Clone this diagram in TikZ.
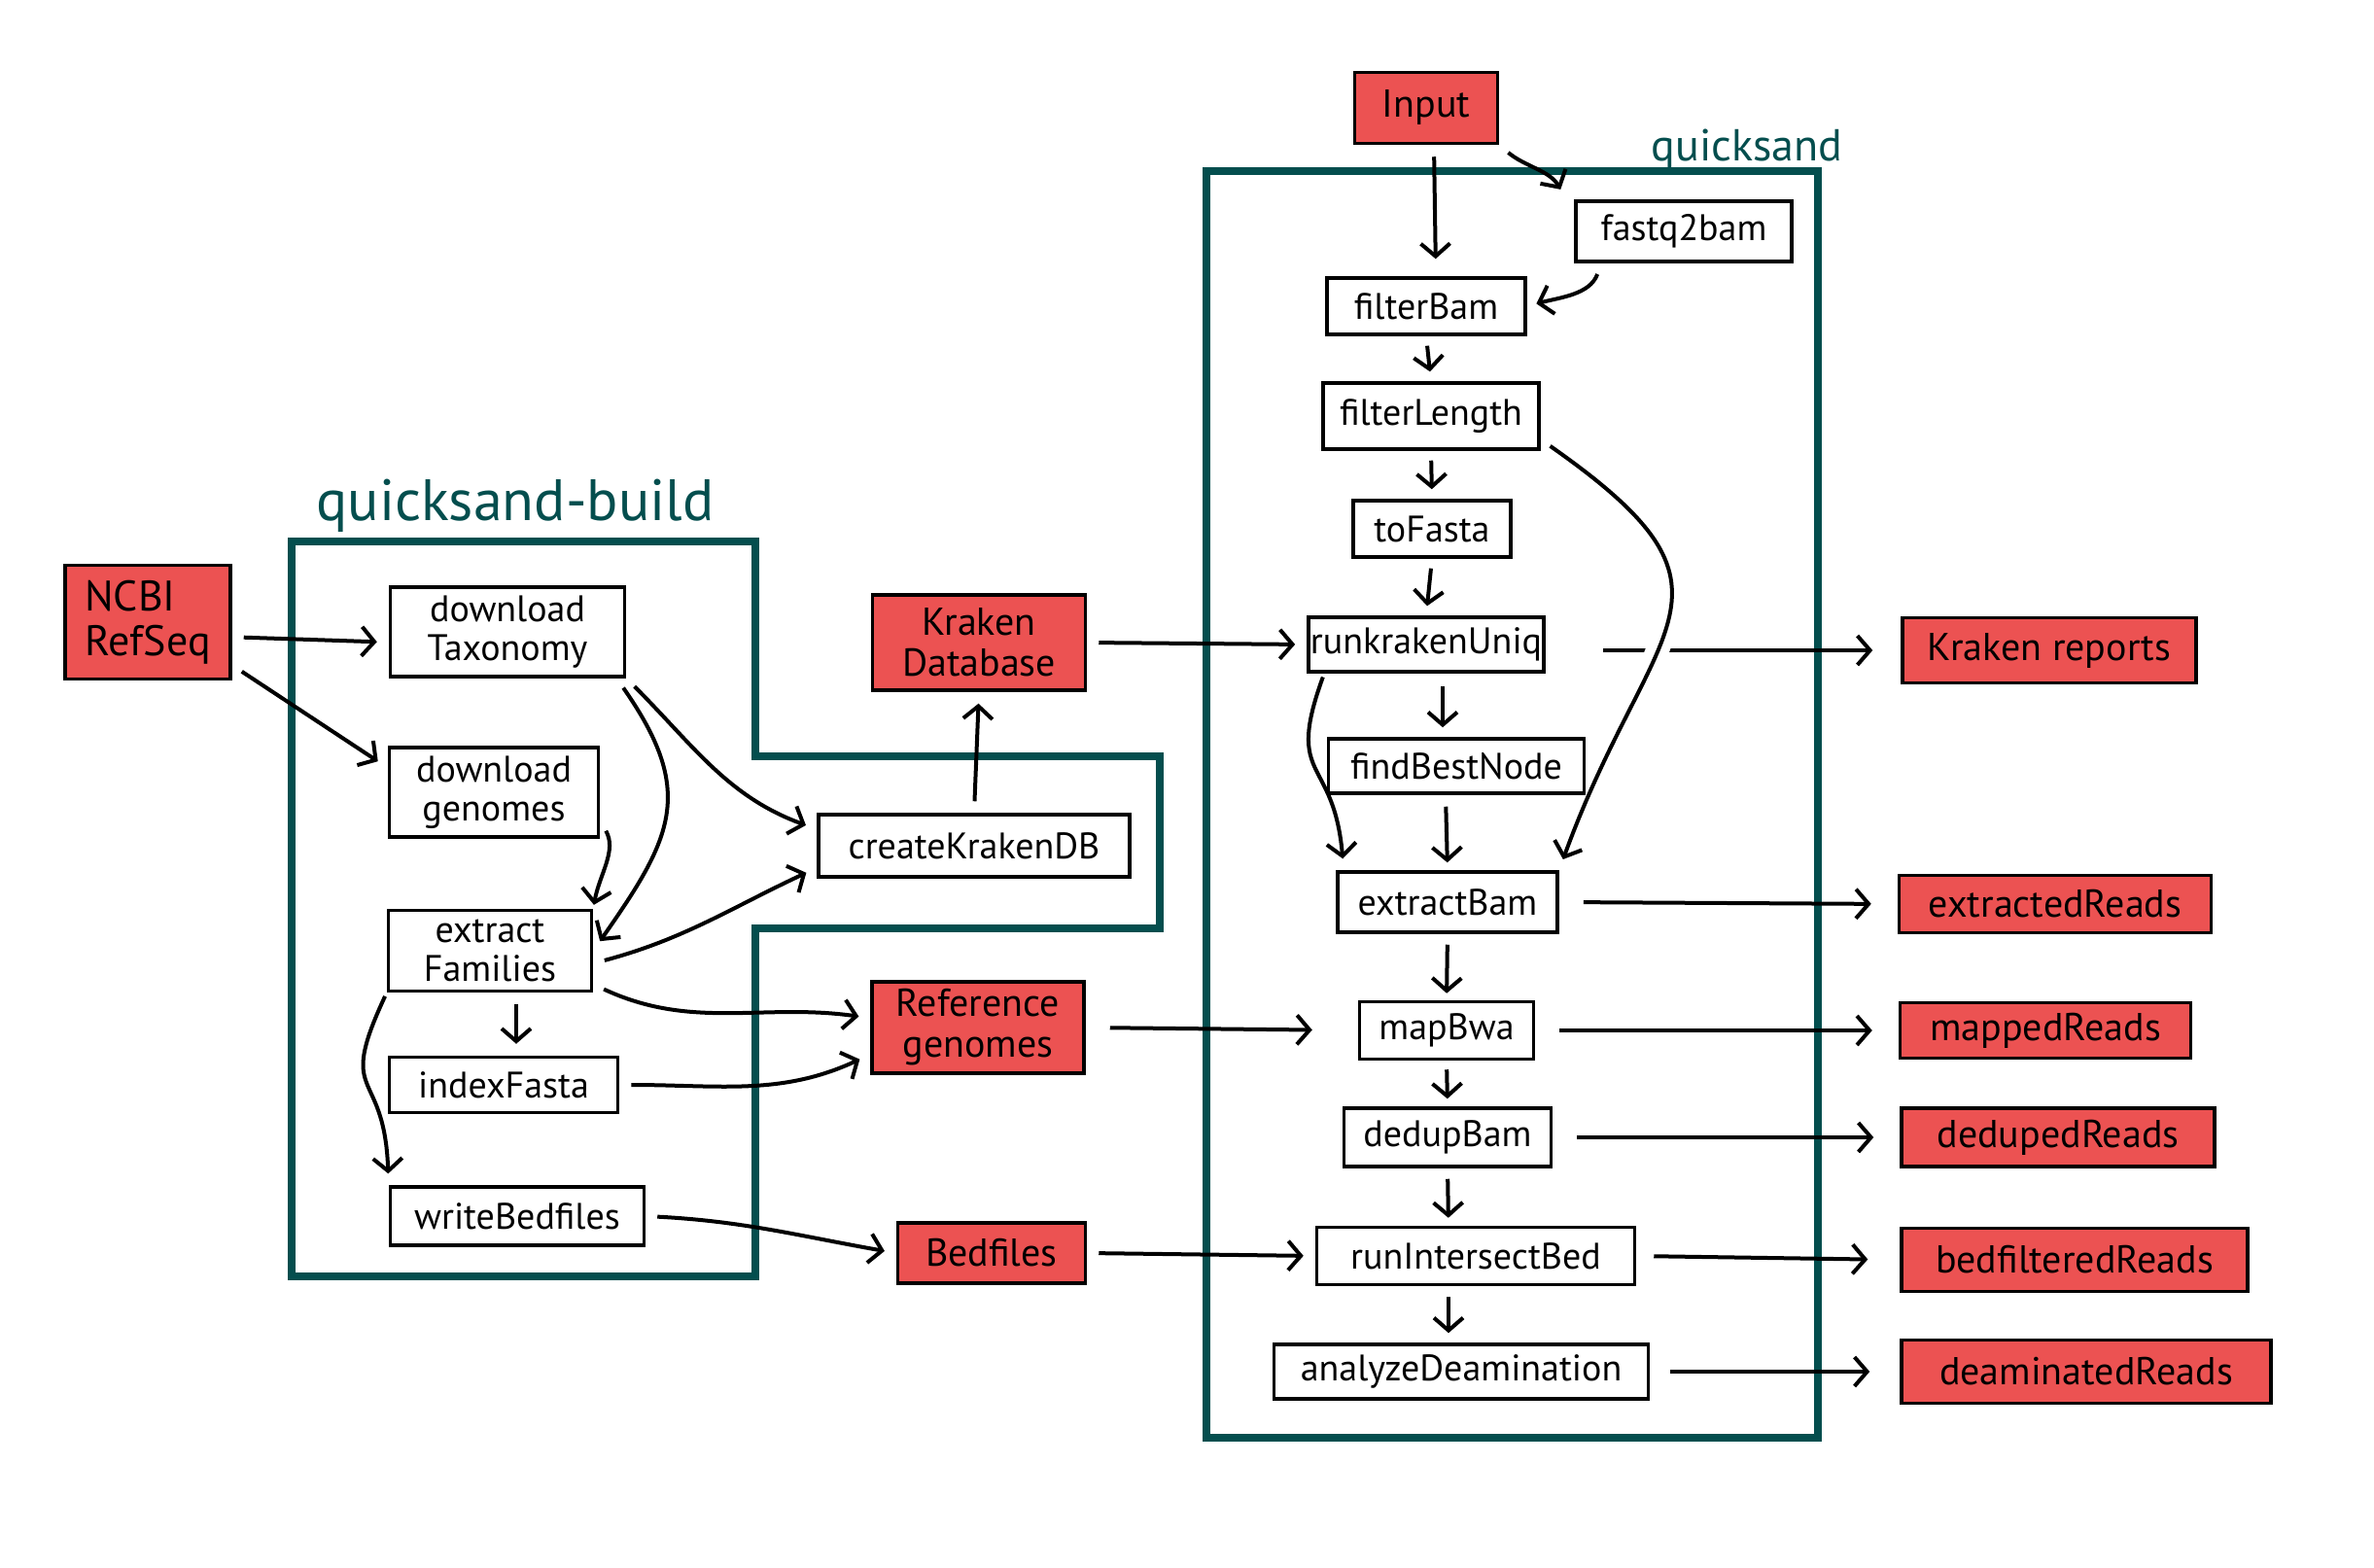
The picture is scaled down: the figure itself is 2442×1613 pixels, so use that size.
\documentclass[tikz,border=0pt]{standalone}
\usepackage{fontspec}
\setmainfont{PT Sans}
\usetikzlibrary{arrows.meta}
\definecolor{frameteal}{RGB}{4,78,78}
\definecolor{outred}{RGB}{236,82,82}

\begin{document}
\begin{tikzpicture}[x=1pt,y=1pt,
		>={Straight Barb[length=13pt,width=30pt]},
		proc/.style={draw,line width=3.5pt,inner sep=2pt,align=center,font=\fontsize{38}{40}\selectfont},
		store/.style={proc,fill=outred,font=\fontsize{40}{42}\selectfont},
		flow/.style={->,line width=4pt,shorten <=12pt,shorten >=12pt},
		outflow/.style={flow,shorten <=25pt,shorten >=27pt}]
		\useasboundingbox (0,0) rectangle (2442,-1613);
		\draw[frameteal,line width=8pt] (300,-557) -- (777,-557) -- (777,-778) -- (1193,-778)
			-- (1193,-955) -- (777,-955) -- (777,-1313) -- (300,-1313) -- cycle;
		\node[text=frameteal,font=\fontsize{60}{60}\selectfont,anchor=base west] (buildlabel) at (322,-535) {quicksand-build};
		\draw[frameteal,line width=8pt] (1241,-176) rectangle (1870,-1479);
		\node[text=frameteal,font=\fontsize{46}{46}\selectfont,anchor=base west] (runlabel) at (1695,-166) {quicksand};

		\node[store,align=left,font=\fontsize{44}{46}\selectfont,minimum width=170pt,minimum height=117pt] (ncbi) at (152,-640) {NCBI\\RefSeq};
		\node[proc,minimum width=241pt,minimum height=92pt] (taxo) at (522,-650) {download\\Taxonomy};
		\node[proc,minimum width=215pt,minimum height=92pt] (genomes) at (508,-815) {download\\genomes};
		\node[proc,minimum width=209pt,minimum height=83pt] (families) at (504,-978) {extract\\Families};
		\node[proc,minimum width=235pt,minimum height=57pt] (indexfa) at (518,-1116) {indexFasta};
		\node[proc,minimum width=261pt,minimum height=60pt] (bedw) at (532,-1251) {writeBedfiles};
		\node[proc,minimum width=320pt,minimum height=64pt] (createdb) at (1002,-870) {createKrakenDB};
		\node[store,minimum width=219pt,minimum height=98pt] (krakendb) at (1007,-661) {Kraken\\Database};
		\node[store,minimum width=218pt,minimum height=94pt] (refgen) at (1006,-1057) {Reference\\genomes};
		\node[store,minimum width=193pt,minimum height=62pt] (bedfiles) at (1020,-1289) {Bedfiles};

		\node[store,minimum width=147pt,minimum height=73pt] (input) at (1467,-111) {Input};
		\node[proc,minimum width=222pt,minimum height=62pt] (fastq) at (1732,-238) {fastq2bam};
		\node[proc,minimum width=204pt,minimum height=58pt] (filterbam) at (1467,-315) {filterBam};
		\node[proc,minimum width=222pt,minimum height=68pt] (filterlen) at (1472,-428) {filterLength};
		\node[proc,minimum width=162pt,minimum height=58pt] (tofasta) at (1473,-544) {toFasta};
		\node[proc,minimum width=239pt,minimum height=56pt] (krakenuniq) at (1467,-663) {runkrakenUniq};
		\node[proc,minimum width=263pt,minimum height=56pt] (bestnode) at (1498,-788) {findBestNode};
		\node[proc,minimum width=226pt,minimum height=62pt] (extractbam) at (1489,-928) {extractBam};
		\node[proc,minimum width=179pt,minimum height=59pt] (mapbwa) at (1488,-1060) {mapBwa};
		\node[proc,minimum width=213pt,minimum height=60pt] (dedup) at (1489,-1170) {dedupBam};
		\node[proc,minimum width=327pt,minimum height=59pt] (intersect) at (1518,-1292) {runIntersectBed};
		\node[proc,minimum width=385pt,minimum height=56pt] (deamin) at (1503,-1411) {analyzeDeamination};

		\node[store,minimum width=302pt,minimum height=67pt] (krep) at (2108,-669) {Kraken reports};
		\node[store,minimum width=321pt,minimum height=59pt] (extracted) at (2114,-930) {extractedReads};
		\node[store,minimum width=299pt,minimum height=57pt] (mapped) at (2104,-1060) {mappedReads};
		\node[store,minimum width=322pt,minimum height=60pt] (deduped) at (2117,-1170) {dedupedReads};
		\node[store,minimum width=356pt,minimum height=65pt] (bedfiltered) at (2134,-1296) {bedfilteredReads};
		\node[store,minimum width=380pt,minimum height=65pt] (deaminated) at (2146,-1411) {deaminatedReads};

		\draw[flow] (ncbi.-10) -- (taxo.185);
		\draw[flow] (ncbi.-27) -- (genomes.167);
		\draw[flow] (taxo.south east) to[out=-45,in=160] (createdb.174);
		\draw[flow] ([xshift=-10pt]taxo.south east) to[out=-55,in=55,looseness=1.3] (families.east);
		\draw[flow,shorten >=4pt] (genomes.-15) to[out=-60,in=80] (families.north east);
		\draw[flow] (families.-7) to[out=15,in=205] (createdb.188);
		\draw[flow] (families.-18) to[out=-25,in=172] (refgen.175);
		\draw[flow] ([xshift=27pt]families.south) -- ([xshift=13pt]indexfa.north);
		\draw[flow,shorten <=4pt] (families.south west) to[out=-115,in=92,looseness=1.6] (bedw.north west);
		\draw[flow] (indexfa.east) to[out=0,in=205] (refgen.194);
		\draw[flow] (bedw.east) to[out=-3,in=170] (bedfiles.west);
		\draw[flow] (createdb.north) -- (krakendb.south);
		\draw[flow] (krakendb.east) -- (krakenuniq.west);
		\draw[flow,shorten <=25pt,shorten >=47pt] (refgen.east) -- (mapbwa.west);
		\draw[flow] (bedfiles.east) -- (intersect.west);

		\draw[flow,shorten >=18pt] ([xshift=8pt]input.south) -- ([xshift=10pt]filterbam.north);
		\draw[flow] (input.south east) to[out=-40,in=120] ([xshift=-8pt]fastq.north west);
		\draw[flow,shorten >=10pt] ([xshift=28pt]fastq.south west) to[out=-110,in=15] (filterbam.east);
		\draw[flow,shorten <=10pt,shorten >=10pt] (filterbam.south) -- (filterlen.north);
		\draw[flow,shorten <=10pt,shorten >=10pt] (filterlen.south) -- (tofasta.north);
		\draw[flow,shorten <=10pt,shorten >=10pt] (tofasta.south) -- (krakenuniq.north);
		\draw[flow,shorten <=13pt,shorten >=10pt] ([xshift=17pt]krakenuniq.south) -- ([xshift=-14pt]bestnode.north);
		\draw[flow,shorten <=12pt,shorten >=8pt] ([xshift=-11pt]bestnode.south) -- (extractbam.north);
		\draw[flow,shorten <=11pt,shorten >=7pt] (extractbam.south) -- (mapbwa.north);
		\draw[flow,shorten <=9pt,shorten >=8pt] (mapbwa.south) -- (dedup.north);
		\draw[flow,shorten <=11pt,shorten >=8pt] (dedup.south) -- ([xshift=-28pt]intersect.north);
		\draw[flow,shorten <=11pt,shorten >=10pt] ([xshift=-28pt]intersect.south) -- ([xshift=-13pt]deamin.north);
		\draw[flow,shorten <=4pt] ([xshift=18pt]krakenuniq.south west) to[out=-110,in=95,looseness=1.5] ([xshift=8pt]extractbam.north west);

		\draw[outflow,shorten <=59pt,shorten >=29pt] (krakenuniq.east |- krep) -- (krep.west);
		\draw[outflow] (extractbam.east) -- (extracted.west);
		\draw[outflow] (mapbwa.east) -- (mapped.west);
		\draw[outflow] (dedup.east) -- (deduped.west);
		\draw[outflow,shorten <=18pt,shorten >=33pt] (intersect.east) -- (bedfiltered.west);
		\draw[outflow,shorten <=21pt,shorten >=31pt] (deamin.east) -- (deaminated.west);
		\begin{scope}
			\clip (1640,-630) rectangle (1790,-710);
			\draw[white,line width=24pt] (filterlen.-12) to[out=-35,in=70,looseness=1.6] (extractbam.north east);
		\end{scope}
		\draw[flow] (filterlen.-12) to[out=-35,in=70,looseness=1.6] (extractbam.north east);
	\end{tikzpicture}
\end{document}
